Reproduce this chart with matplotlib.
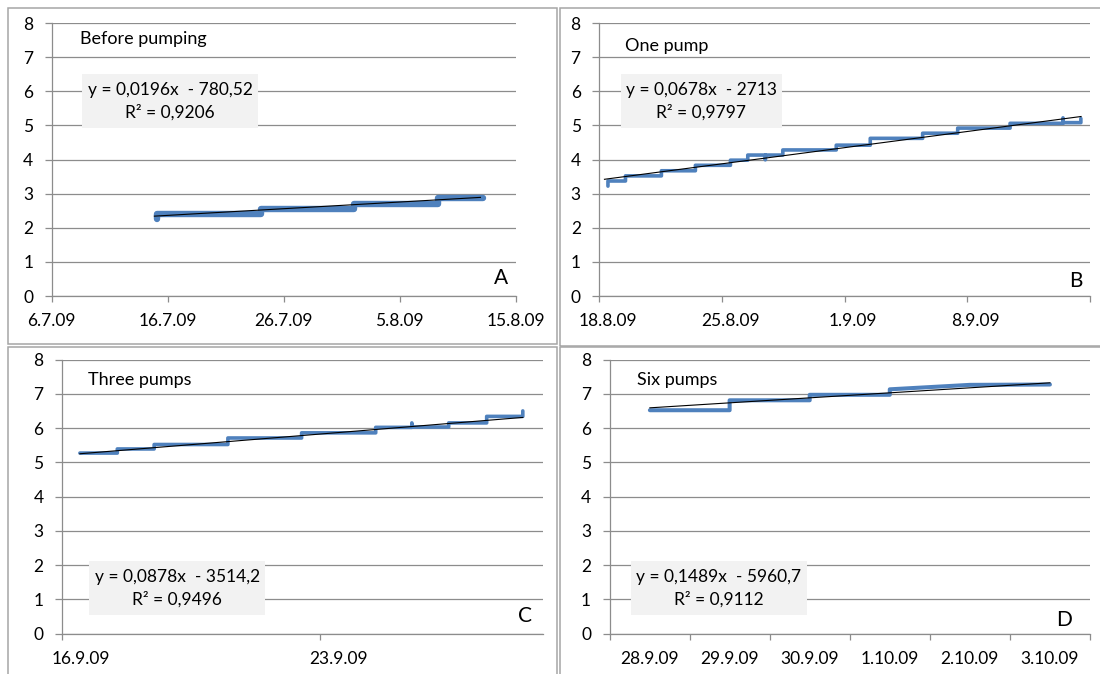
import numpy as np
import matplotlib
matplotlib.use("Agg")
import matplotlib.pyplot as plt
import matplotlib.dates as mdates
from matplotlib.patches import Rectangle
from matplotlib.ticker import FixedLocator, FuncFormatter, MultipleLocator

plt.rcParams['font.family'] = ['Lato', 'DejaVu Sans']

# --- data (days counted from each panel's start date) ---
a_start = "2009-07-06"
a_days = [9.07, 9.07, 18.08, 18.08, 26.10, 26.10, 33.30, 33.30, 37.20]
a_vals = [2.27, 2.40, 2.40, 2.55, 2.55, 2.70, 2.70, 2.87, 2.87]
a_trend_days = [8.86, 36.97]
a_trend_vals = [2.34, 2.89]
a_ticks = ["2009-07-06", "2009-07-16", "2009-07-26", "2009-08-05", "2009-08-15"]

b_start = "2009-08-18"
b_days = [0.50, 0.50, 1.50, 1.50, 3.55, 3.55, 5.49, 5.49, 7.49, 7.49, 8.48, 8.48,
          9.48, 9.48, 9.50, 10.48, 10.48, 13.53, 13.53, 15.47, 15.47, 18.46, 18.46,
          20.46, 20.46, 23.45, 23.45, 26.47, 26.47, 26.49, 27.49, 27.49]
b_vals = [3.22, 3.37, 3.37, 3.52, 3.52, 3.67, 3.67, 3.83, 3.83, 3.98, 3.98, 4.13,
          4.13, 3.99, 4.13, 4.13, 4.28, 4.28, 4.42, 4.42, 4.62, 4.62, 4.77,
          4.77, 4.92, 4.92, 5.06, 5.06, 5.22, 5.08, 5.08, 5.20]
b_trend_days = [0.30, 27.50]
b_trend_vals = [3.42, 5.26]
b_ticks = ["2009-08-18", "2009-08-25", "2009-09-01", "2009-09-08", "2009-09-15"]
b_labels = ["2009-08-18", "2009-08-25", "2009-09-01", "2009-09-08"]

c_start = "2009-09-16"
c_days = [0.485, 1.50, 1.50, 2.50, 2.50, 4.50, 4.50, 6.50, 6.50, 8.51, 8.51, 9.49,
          9.49, 9.51, 10.49, 10.49, 11.52, 11.52, 12.50, 12.50]
c_vals = [5.27, 5.27, 5.39, 5.39, 5.52, 5.52, 5.71, 5.71, 5.86, 5.86, 6.02, 6.02,
          6.15, 6.03, 6.03, 6.15, 6.15, 6.34, 6.34, 6.50]
c_trend_days = [0.485, 12.50]
c_trend_vals = [5.25, 6.31]
c_ticks = ["2009-09-16", "2009-09-23"]
c_labels = ["2009-09-16", "2009-09-23"]

d_start = "2009-09-28"
d_days = [0.504, 1.50, 1.50, 2.50, 2.50, 3.50, 3.50, 4.50, 5.50]
d_vals = [6.52, 6.52, 6.81, 6.81, 6.97, 6.97, 7.13, 7.26, 7.27]
d_trend_days = [0.504, 5.50]
d_trend_vals = [6.59, 7.32]
d_ticks = ["2009-09-28", "2009-09-29", "2009-09-30", "2009-10-01", "2009-10-02",
           "2009-10-03", "2009-10-04"]
d_labels = ["2009-09-28", "2009-09-29", "2009-09-30", "2009-10-01", "2009-10-02",
            "2009-10-03"]

titles = ["Before pumping", "One pump", "Three pumps", "Six pumps"]
equations = ["y = 0,0196x  - 780,52\nR² = 0,9206",
             "y = 0,0678x  - 2713\nR² = 0,9797",
             "y = 0,0878x  - 3514,2\nR² = 0,9496",
             "y = 0,1489x  - 5960,7\nR² = 0,9112"]
letters = ["A", "B", "C", "D"]

W, H = 1100, 674
GRID = "#8c8c8c"
BLUE = "#4f81bd"

fig = plt.figure(figsize=(W / 100, H / 100), dpi=100)


def fbox(l, t, r, b):
    return [l / W, 1 - b / H, (r - l) / W, (b - t) / H]


def dnum(s):
    return mdates.date2num(np.datetime64(s))


def fmt_date(v, pos=None):
    d = mdates.num2date(v)
    return f"{d.day}.{d.month}.{d.strftime('%y')}"


def panel(rect, start, days, vals, tdays, tvals, xlim_days, ticks, labels, lw):
    ax = fig.add_axes(fbox(*rect))
    t0 = dnum(start)
    ax.plot(t0 + np.array(days), vals, color=BLUE, lw=lw,
            solid_capstyle="round", solid_joinstyle="round", zorder=3)
    ax.plot(t0 + np.array(tdays), tvals, color="black", lw=0.8, zorder=4)
    ax.set_xlim(t0, t0 + xlim_days)
    ax.set_ylim(0, 8)
    ax.yaxis.set_major_locator(MultipleLocator(1))
    ax.grid(axis="y", color=GRID, lw=0.9)
    ax.set_axisbelow(True)
    for s in ["top", "right"]:
        ax.spines[s].set_visible(False)
    for s in ["left", "bottom"]:
        ax.spines[s].set_color(GRID)
        ax.spines[s].set_linewidth(0.9)
    ax.tick_params(axis="y", length=4.8, width=0.9, color=GRID, pad=8.5,
                   labelsize=12.5)
    tick_pos = [dnum(t) for t in ticks]
    ax.xaxis.set_major_locator(FixedLocator(tick_pos))
    if labels is None:
        ax.xaxis.set_major_formatter(FuncFormatter(fmt_date))
        ax.tick_params(axis="x", which="major", length=4.3, width=0.9,
                       color=GRID, pad=8, labelsize=12.5)
    else:
        ax.xaxis.set_major_formatter(FuncFormatter(lambda v, p: ""))
        ax.xaxis.set_minor_locator(FixedLocator([dnum(t) + 0.5 for t in labels]))
        ax.xaxis.set_minor_formatter(FuncFormatter(fmt_date))
        ax.tick_params(axis="x", which="major", length=4.3, width=0.9, color=GRID)
        ax.tick_params(axis="x", which="minor", length=0, pad=12.3, labelsize=12.5)
    ax.set_facecolor("none")
    return ax


# panel frames
frames = [(8.3, 8.3, 556.7, 344), (560, 8.3, 1105, 345.5),
          (8.3, 346.5, 556.7, 680), (560, 347, 1105, 680)]
for l, t, r, b in frames:
    fig.add_artist(Rectangle((l / W, 1 - b / H), (r - l) / W, (b - t) / H,
                             transform=fig.transFigure, fill=False,
                             edgecolor="#a6a6a6", lw=1.1))

panel((51.6, 23, 515.6, 296), a_start, a_days, a_vals, a_trend_days, a_trend_vals,
      40, a_ticks, None, 4.6)
panel((599.2, 23, 1089.8, 296), b_start, b_days, b_vals, b_trend_days, b_trend_vals,
      28, b_ticks, b_labels, 2.6)
panel((62, 359.5, 542.7, 633.7), c_start, c_days, c_vals, c_trend_days, c_trend_vals,
      13.04, c_ticks, c_labels, 2.6)
panel((609.5, 359.5, 1090, 633.7), d_start, d_days, d_vals, d_trend_days, d_trend_vals,
      6, d_ticks, d_labels, 2.9)

# titles, trendline labels, panel letters
title_pos = [(80, 39.3), (624.7, 46), (88.4, 380.3), (637, 379.7)]
for (x, y), s in zip(title_pos, titles):
    fig.text(x / W, 1 - y / H, s, ha="left", va="center", fontsize=13)

eq_boxes = [(82.4, 74, 257.8, 128.3), (621.2, 74, 781.5, 128.3),
            (89.4, 561, 264.8, 615.3), (631.4, 561, 806.7, 615.3)]
for (l, t, r, b), s in zip(eq_boxes, equations):
    fig.add_artist(Rectangle((l / W, 1 - b / H), (r - l) / W, (b - t) / H,
                             transform=fig.transFigure, facecolor="#f2f2f2",
                             edgecolor="none", zorder=5))
    fig.text((l + r) / 2 / W, 1 - (t + b) / 2 / H, s, ha="center", va="center",
             fontsize=12.5, linespacing=1.45, zorder=6)

letter_pos = [(500.5, 278.3), (1076, 280.7), (525, 616.5), (1064.5, 619.7)]
for (x, y), s in zip(letter_pos, letters):
    fig.text(x / W, 1 - y / H, s, ha="center", va="center", fontsize=15)

fig.savefig("out.png", dpi=100, facecolor="white")
